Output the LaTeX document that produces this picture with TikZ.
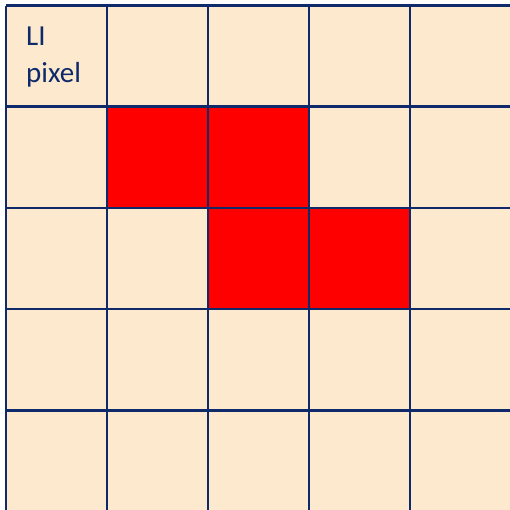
\documentclass[tikz,border=0pt]{standalone}
\usepackage{fontspec}
\setmainfont{Carlito}
\definecolor{gridnavy}{RGB}{14,42,106}
\definecolor{cellbeige}{RGB}{253,234,206}
\definecolor{hitred}{RGB}{255,0,0}
\tikzset{
  gridline/.style={draw=gridnavy, line width=2.6pt},
  hitcell/.style={fill=hitred},
  pixeltext/.style={text=gridnavy, font=\fontsize{29}{37}\selectfont, align=left, inner sep=0pt, anchor=north west}
}
\begin{document}
\begin{tikzpicture}[x=1pt,y=-1pt]
    \useasboundingbox (0,0) rectangle (510,509);
    \clip (0,0) rectangle (510,509);
    % background of the grid
    \fill[cellbeige] (6,5.5) rectangle (520,520);
    % red pixels
    \foreach \col/\row in {1/1,2/1,2/2,3/2}
        \fill[hitcell] (6+101*\col,5.5+101.2*\row) rectangle ++(101,101.2);
    % grid lines
    \foreach \i in {0,...,5} {
        \draw[gridline] (6+101*\i,5.5) -- (6+101*\i,520);
        \draw[gridline] (6,5.5+101.2*\i) -- (520,5.5+101.2*\i);
    }
    % label of the first pixel
    \node[pixeltext] (lipixel) at (26,27) {LI\\pixel};
\end{tikzpicture}
\end{document}
